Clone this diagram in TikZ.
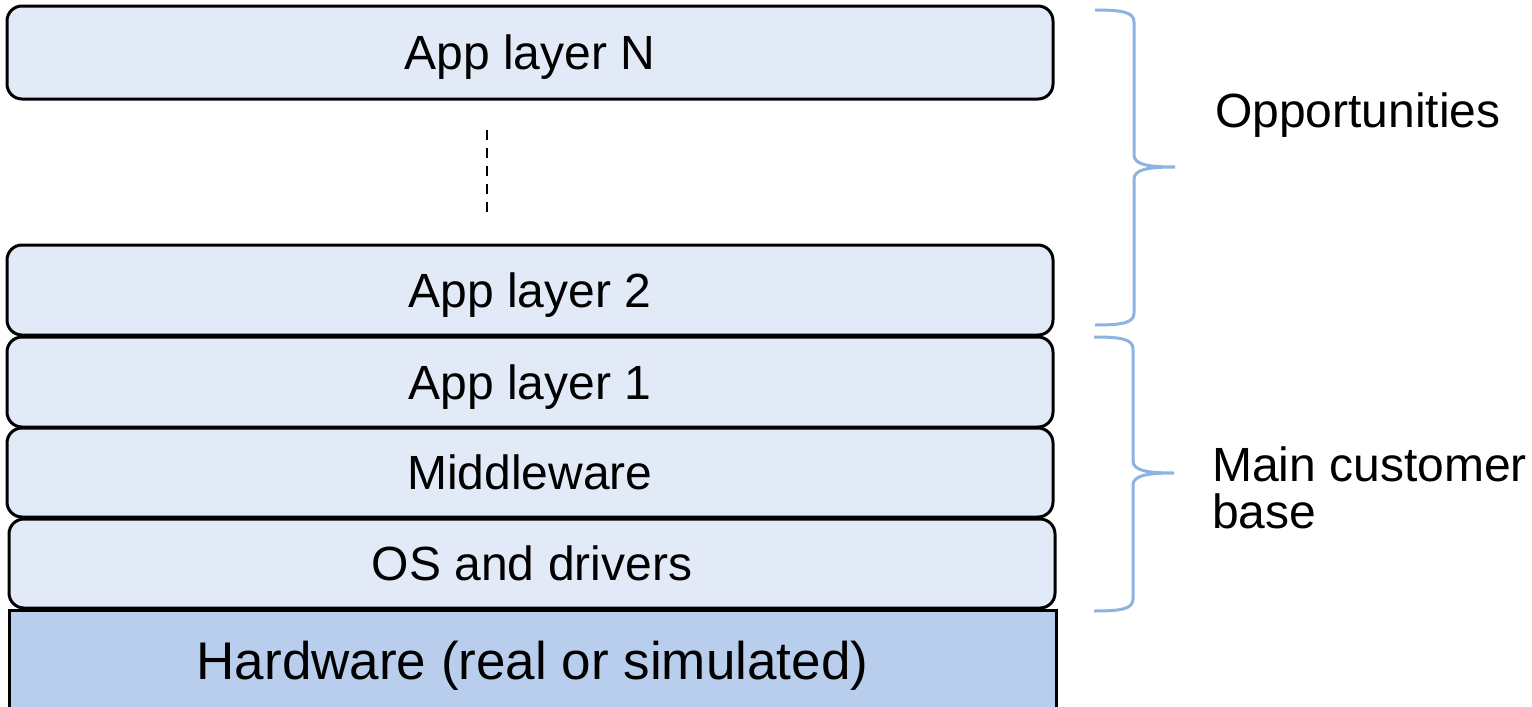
\documentclass[tikz,border=0pt]{standalone}
\usepackage{fontspec}
\setmainfont{Liberation Sans}
\definecolor{layerfill}{RGB}{227,234,247}
\definecolor{hwfill}{RGB}{185,205,236}
\definecolor{bracecol}{RGB}{141,179,226}
\tikzset{
  layer/.style={draw=black, line width=3pt, fill=layerfill, rounded corners=15pt,
    minimum width=1046pt, inner sep=0pt, text depth=0pt,
    font=\fontsize{48}{55}\selectfont},
  hwbox/.style={draw=black, line width=3pt, fill=hwfill,
    minimum width=1047pt, inner sep=0pt, text depth=0pt,
    font=\fontsize{53}{60}\selectfont},
  bracepath/.style={draw=bracecol, line width=3pt},
  sidelabel/.style={anchor=west, align=left, inner sep=0pt,
    font=\fontsize{48}{47}\selectfont}
}
\begin{document}
\begin{tikzpicture}[x=1pt, y=-1pt]
\useasboundingbox (0,0) rectangle (1532,707);
% hardware base, drawn first so the stack sits on it
\node[hwbox, minimum height=100pt] (hw) at (532.5,660) {Hardware (real or simulated)};
% software stack
\node[layer, minimum height=89pt] (os) at (532,563.5) {OS and drivers};
\node[layer, minimum height=89pt] (mid) at (530,472.5) {Middleware};
\node[layer, minimum height=90pt] (app1) at (530,382) {App layer 1};
\node[layer, minimum height=90pt] (app2) at (530,290) {App layer 2};
\node[layer, minimum height=93pt] (appN) at (530,52.5) {App layer N};
% elided layers
\coordinate (gapTop) at (487,130);
\coordinate (gapBot) at (487,212);
\draw[line width=2.5pt, dash pattern=on 10pt off 8pt] (gapTop) -- (gapBot);
% brace over the upper layers
\draw[bracepath] (1095,10) .. controls (1122,10) and (1134,12) .. (1134,22)
  -- (1134,155) .. controls (1134,165) and (1150,167) .. (1175,167)
  .. controls (1150,167) and (1134,169) .. (1134,179)
  -- (1134,313) .. controls (1134,323) and (1122,325) .. (1095,325);
% brace over the lower layers
\draw[bracepath] (1094,337) .. controls (1121,337) and (1133,339) .. (1133,349)
  -- (1133,461) .. controls (1133,471) and (1149,473) .. (1174,473)
  .. controls (1149,473) and (1133,475) .. (1133,485)
  -- (1133,599) .. controls (1133,609) and (1121,611) .. (1094,611);
\node[sidelabel, text depth=0pt] (opp) at (1215,110) {Opportunities};
\node[sidelabel] (cust) at (1212,488) {Main customer\\base};
\end{tikzpicture}
\end{document}
